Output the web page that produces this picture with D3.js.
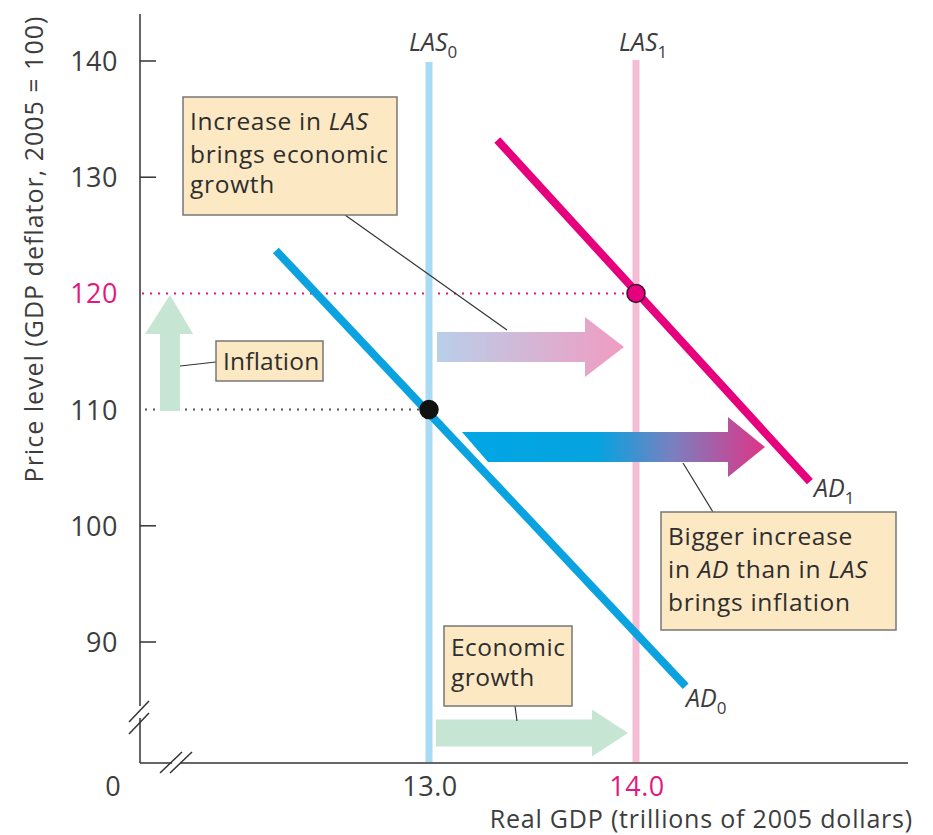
<!DOCTYPE html>
<html><head><meta charset="utf-8">
<script src="https://cdn.jsdelivr.net/npm/d3@7"></script>
<style>body{margin:0;background:#fff}svg{display:block}text{font-family:"Open Sans",Lato,sans-serif}</style>
</head><body>
<svg id="c" width="933" height="835"></svg>
<script>
// ---- data ----
const yTicks = [90, 100, 110, 120, 130, 140];
const xTicks = [13.0, 14.0];
const lasValues = [13.0, 14.0];            // LAS0, LAS1
const ad0 = [[12.26, 123.7], [14.24, 86.2]];
const ad1 = [[13.33, 133.2], [14.84, 103.8]];
const equilibria = [[13.0, 110], [14.0, 120]];

const svg = d3.select("#c");
const x = d3.scaleLinear().domain([13, 14]).range([429, 636]);
const y = d3.scaleLinear().domain([90, 140]).range([642, 61]);
const X0 = 140, Y0 = 763, XEND = 908, YTOP = 14;
const txt = "#3d3d3d", mag = "#e2197f", blue = "#0ba3df", magLine = "#e6007e";

const defs = svg.append("defs");
const g1 = defs.append("linearGradient").attr("id","gLas").attr("gradientUnits","userSpaceOnUse")
  .attr("x1",437).attr("x2",623).attr("y1",0).attr("y2",0);
g1.append("stop").attr("offset","0").attr("stop-color","#b9cfe9");
g1.append("stop").attr("offset","1").attr("stop-color","#f09cc2");
const g2 = defs.append("linearGradient").attr("id","gAd").attr("gradientUnits","userSpaceOnUse")
  .attr("x1",462).attr("x2",764).attr("y1",0).attr("y2",0);
g2.append("stop").attr("offset","0").attr("stop-color","#00a6e4");
g2.append("stop").attr("offset","0.45").attr("stop-color","#06a3e0");
g2.append("stop").attr("offset","0.7").attr("stop-color","#7b7fbf");
g2.append("stop").attr("offset","1").attr("stop-color","#dd3587");

// ---- axes ----
svg.append("line").attr("x1",X0).attr("x2",X0).attr("y1",YTOP).attr("y2",Y0).attr("stroke","#333").attr("stroke-width",1.5);
svg.append("line").attr("x1",X0).attr("x2",XEND).attr("y1",Y0).attr("y2",Y0).attr("stroke","#333").attr("stroke-width",1.5);
svg.selectAll(".tk").data(yTicks.filter(d=>d!==110&&d!==120)).join("line")
  .attr("x1",X0).attr("x2",X0+16).attr("y1",d=>y(d)).attr("y2",d=>y(d)).attr("stroke","#333").attr("stroke-width",1.5);
svg.selectAll(".yl").data(yTicks).join("text")
  .attr("x",118).attr("y",d=>y(d)+10).attr("text-anchor","end").attr("font-size",27).attr("letter-spacing",0.5)
  .attr("fill",d=>d===120?mag:txt).text(d=>d);
svg.selectAll(".xl").data(xTicks).join("text")
  .attr("x",d=>x(d)+1).attr("y",796).attr("text-anchor","middle").attr("font-size",27).attr("letter-spacing",0.5)
  .attr("fill",d=>d===14?mag:txt).text(d=>d.toFixed(1));
svg.append("text").attr("x",113).attr("y",796).attr("text-anchor","middle").attr("font-size",27).attr("fill",txt).text("0");
// axis breaks
const brk = [[129,722,149,701],[129,734,149,713],[160,773,182,752],[170,773,192,752]];
svg.append("line").attr("x1",X0).attr("x2",X0).attr("y1",706).attr("y2",718).attr("stroke","#fff").attr("stroke-width",4);
svg.append("line").attr("x1",172).attr("x2",180).attr("y1",Y0).attr("y2",Y0).attr("stroke","#fff").attr("stroke-width",4);
svg.selectAll(".brk").data(brk).join("line")
  .attr("x1",d=>d[0]).attr("y1",d=>d[1]).attr("x2",d=>d[2]).attr("y2",d=>d[3]).attr("stroke","#333").attr("stroke-width",1.5);

// axis titles
svg.append("text").attr("transform","translate(43,249) rotate(-90)").attr("text-anchor","middle")
  .attr("font-size",25).attr("letter-spacing",1).attr("fill",txt).text("Price level (GDP deflator, 2005 = 100)");
svg.append("text").attr("x",913).attr("y",828).attr("text-anchor","end")
  .attr("font-size",25).attr("letter-spacing",0.8).attr("fill",txt).text("Real GDP (trillions of 2005 dollars)");

// ---- dotted guides ----
svg.append("line").attr("x1",X0+2).attr("x2",x(14)).attr("y1",y(120)).attr("y2",y(120))
  .attr("stroke",mag).attr("stroke-width",2).attr("stroke-dasharray","2,6");
svg.append("line").attr("x1",X0+5).attr("x2",x(13)).attr("y1",y(110)).attr("y2",y(110))
  .attr("stroke","#555").attr("stroke-width",2).attr("stroke-dasharray","2,6");

// ---- LAS lines ----
const lasCol = ["#a9dcf4","#f6bcd6"];
svg.selectAll(".las").data(lasValues).join("line")
  .attr("x1",d=>x(d)).attr("x2",d=>x(d)).attr("y1",(d,i)=>i?60:62).attr("y2",Y0-1)
  .attr("stroke",(d,i)=>lasCol[i]).attr("stroke-width",7);

// ---- arrows ----
function hArrow(x0,x1,xh,yc,hs,hh,fill,slant){
  const p = d3.path();
  p.moveTo(x0,yc-hs); p.lineTo(xh,yc-hs); p.lineTo(xh,yc-hh); p.lineTo(x1,yc);
  p.lineTo(xh,yc+hh); p.lineTo(xh,yc+hs); p.lineTo(x0+(slant||0),yc+hs); p.closePath();
  svg.append("path").attr("d",p.toString()).attr("fill",fill);
}
hArrow(437,624,585,347,15,30,"url(#gLas)");
hArrow(462,765,728,447,15,30,"url(#gAd)",26);
hArrow(436,628,592,733,13.5,23.5,"#c6e6d3");
(function(){
  const p=d3.path(), xc=170;
  p.moveTo(xc-10,411); p.lineTo(xc-10,334); p.lineTo(xc-25,334); p.lineTo(xc,295);
  p.lineTo(xc+23,334); p.lineTo(xc+10,334); p.lineTo(xc+10,411); p.closePath();
  svg.append("path").attr("d",p.toString()).attr("fill","#c6e6d3");
})();

// ---- AD curves ----
const line = d3.line().x(d=>x(d[0])).y(d=>y(d[1]));
svg.append("path").attr("d",line(ad0)).attr("stroke",blue).attr("stroke-width",8).attr("fill","none");
svg.append("path").attr("d",line(ad1)).attr("stroke",magLine).attr("stroke-width",8).attr("fill","none");

svg.selectAll(".eq").data(equilibria).join("circle")
  .attr("cx",d=>x(d[0])).attr("cy",d=>y(d[1])).attr("r",9)
  .attr("fill",(d,i)=>i?magLine:"#111").attr("stroke",(d,i)=>i?"#3a1030":"#111").attr("stroke-width",1.5);

// ---- curve labels ----
function sublabel(xp,yp,main,sub){
  const t = svg.append("text").attr("x",xp).attr("y",yp).attr("font-size",25).attr("fill",txt);
  t.append("tspan").attr("font-style","italic").text(main);
  t.append("tspan").attr("font-size",17).attr("dy",7).text(sub);
}
sublabel(409,51,"LAS","0");
sublabel(619,51,"LAS","1");
sublabel(814,497,"AD","1");
sublabel(686,707,"AD","0");

// ---- leader lines ----
const leaders = [[345,215,507,330],[180,366,216,362],[683,463,713,512],[515,706,517,721]];
svg.selectAll(".ld").data(leaders).join("line")
  .attr("x1",d=>d[0]).attr("y1",d=>d[1]).attr("x2",d=>d[2]).attr("y2",d=>d[3]).attr("stroke","#333").attr("stroke-width",1.2);

// ---- annotation boxes ----
function box(x0,y0,w,h,lines,fs,ls){
  svg.append("rect").attr("x",x0).attr("y",y0).attr("width",w).attr("height",h)
    .attr("fill","#fde8c4").attr("stroke","#777").attr("stroke-width",1.5);
  lines.forEach(ln=>{
    const t = svg.append("text").attr("x",x0+7).attr("y",y0+ln.dy).attr("font-size",fs)
      .attr("letter-spacing",ls).attr("fill","#2e2e2e");
    ln.parts.forEach(p=>t.append("tspan").attr("font-style",p[1]?"italic":"normal").text(p[0]));
  });
}
box(183,97,214,118,[{dy:33,parts:[["Increase in "],["LAS",1]]},{dy:66,parts:[["brings economic"]]},{dy:96,parts:[["growth"]]}],24.5,0.7);
box(216,341,107,40,[{dy:29,parts:[["Inflation"]]}],24.5,0.2);
box(661,512,235,118,[{dy:33,parts:[["Bigger increase"]]},{dy:66,parts:[["in "],["AD",1],["  than in "],["LAS",1]]},{dy:99,parts:[["brings inflation"]]}],24.5,0.7);
box(444,626,128,80,[{dy:30,parts:[["Economic"]]},{dy:60,parts:[["growth"]]}],24.5,0.5);
</script>
</body></html>
